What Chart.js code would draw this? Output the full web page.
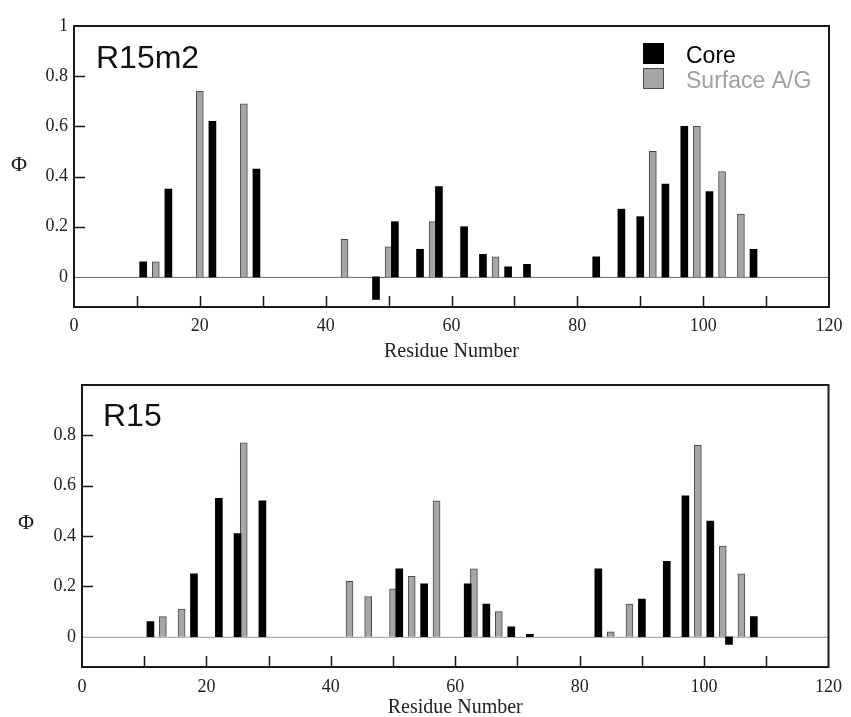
<!DOCTYPE html>
<html>
<head>
<meta charset="utf-8">
<script src="https://cdn.jsdelivr.net/npm/chart.js@4.4.0/dist/chart.umd.min.js"></script>
<style>
    html, body { margin:0; padding:0; background:#fff; }
    #wrap { position:relative; width:851px; height:717px; }
    #wrap canvas { position:absolute; left:0; }
</style>
</head>
<body>
<div id="wrap">
    <canvas id="chart-r15m2" width="851" height="360" style="top:0"></canvas>
    <canvas id="chart-r15" width="851" height="357" style="top:360px"></canvas>
</div>
<script>
// Phi values per residue
const r15m2CoreRes = [11, 15, 22, 29, 48, 51, 55, 58, 62, 65, 69, 72, 83, 87, 90, 94, 97, 101, 108];
const r15m2CorePhi = [0.06, 0.35, 0.62, 0.43, -0.09, 0.22, 0.11, 0.36, 0.20, 0.09, 0.04, 0.05, 0.08, 0.27, 0.24, 0.37, 0.60, 0.34, 0.11];
const r15m2SurfRes = [13, 20, 27, 43, 50, 57, 67, 92, 99, 103, 106];
const r15m2SurfPhi = [0.06, 0.74, 0.69, 0.15, 0.12, 0.22, 0.08, 0.50, 0.60, 0.42, 0.25];

const r15CoreRes = [11, 18, 22, 25, 29, 51, 55, 62, 65, 69, 72, 83, 90, 94, 97, 101, 104, 108];
const r15CorePhi = [0.06, 0.25, 0.55, 0.41, 0.54, 0.27, 0.21, 0.21, 0.13, 0.04, 0.01, 0.27, 0.15, 0.30, 0.56, 0.46, -0.03, 0.08];
const r15SurfRes = [13, 16, 26, 43, 46, 50, 53, 57, 63, 67, 85, 88, 99, 103, 106];
const r15SurfPhi = [0.08, 0.11, 0.77, 0.22, 0.16, 0.19, 0.24, 0.54, 0.27, 0.10, 0.02, 0.13, 0.76, 0.36, 0.25];

const seriesNames = ['Core', 'Surface A/G'];
const xTicks = [0, 10, 20, 30, 40, 50, 60, 70, 80, 90, 100, 110, 120];
const xLabelled = [0, 20, 40, 60, 80, 100, 120];
const yTicksTop = [0, 0.2, 0.4, 0.6, 0.8, 1];
const yTicksBottom = [0, 0.2, 0.4, 0.6, 0.8];

const colors = { core:'#000000', surf:'#a6a6a6', surfEdge:'#4a4a4a', surfText:'#a0a0a0', frame:'#1a1a1a', text:'#222222' };
const serif = '"Liberation Serif", "DejaVu Serif", serif';
const sans = '"Liberation Sans", Arial, sans-serif';

function pts(xs, ys){ return xs.map((x, i) => ({ x, y: ys[i] })); }

// frame, inward ticks, zero line and the text annotations
const panelPlugin = {
    id: 'panel',
    beforeDatasetsDraw(chart, args, opts){
        const { ctx, chartArea: a, scales } = chart;
        const y0 = scales.y.getPixelForValue(0);
        ctx.save();
        ctx.strokeStyle = opts.zeroColor;
        ctx.lineWidth = 1;
        ctx.beginPath();
        ctx.moveTo(a.left, y0 + 0.5);
        ctx.lineTo(a.right, y0 + 0.5);
        ctx.stroke();
        ctx.restore();
    },
    afterDraw(chart, args, opts){
        const { ctx, chartArea: a, scales } = chart;
        ctx.save();
        ctx.strokeStyle = colors.frame;
        ctx.lineWidth = 2;
        ctx.strokeRect(a.left, a.top, a.right - a.left, a.bottom - a.top);

        ctx.lineWidth = 1.5;
        ctx.beginPath();
        xTicks.filter(v => v > 0 && v < 120).forEach(v => {
            const px = Math.round(scales.x.getPixelForValue(v)) + 0.5;
            ctx.moveTo(px, a.bottom);
            ctx.lineTo(px, a.bottom - 11);
        });
        opts.yTicks.filter(v => v > 0 && v < 1).forEach(v => {
            const py = Math.round(scales.y.getPixelForValue(v)) + 0.5;
            ctx.moveTo(a.left, py);
            ctx.lineTo(a.left + 11, py);
        });
        ctx.stroke();

        // panel name
        ctx.fillStyle = '#111';
        ctx.font = '32px ' + sans;
        ctx.textAlign = 'left';
        ctx.textBaseline = 'alphabetic';
        ctx.fillText(opts.name, opts.nameX, opts.nameY);

        // axis titles
        ctx.fillStyle = colors.text;
        ctx.font = '20px ' + serif;
        ctx.textAlign = 'center';
        ctx.textBaseline = 'middle';
        ctx.fillText('Residue Number', (a.left + a.right) / 2, opts.xTitleY);
        ctx.font = '22px ' + serif;
        ctx.fillText('\u03A6', opts.phiX, opts.phiY);

        if (opts.legend) {
            const L = opts.legend;
            ctx.fillStyle = colors.core;
            ctx.fillRect(L.x, L.y, 21, 21);
            ctx.fillStyle = colors.surf;
            ctx.fillRect(L.x, L.y + 25, 21, 21);
            ctx.strokeStyle = colors.surfEdge;
            ctx.lineWidth = 1;
            ctx.strokeRect(L.x + 0.5, L.y + 25.5, 20, 20);
            ctx.font = '23px ' + sans;
            ctx.textAlign = 'left';
            ctx.textBaseline = 'alphabetic';
            ctx.fillStyle = '#000';
            ctx.fillText(seriesNames[0], L.x + 43, L.y + 20);
            ctx.fillStyle = colors.surfText;
            ctx.fillText(seriesNames[1], L.x + 43, L.y + 45);
        }
        ctx.restore();
    }
};

function makePanel(canvasId, core, surf, cfg){
    return new Chart(document.getElementById(canvasId), {
        type: 'bar',
        data: {
            datasets: [
                { label: seriesNames[0], data: core, backgroundColor: colors.core, borderWidth: 0 },
                { label: seriesNames[1], data: surf, backgroundColor: colors.surf, borderColor: colors.surfEdge, borderWidth: 1, borderSkipped: 'start' }
            ]
        },
        options: {
            responsive: false,
            animation: false,
            events: [],
            grouped: false,
            barThickness: 7,
            layout: { padding: cfg.padding },
            plugins: {
                legend: { display: false },
                tooltip: { enabled: false },
                panel: cfg.panel
            },
            scales: {
                x: {
                    type: 'linear',
                    min: 0, max: 120,
                    offset: false,
                    grid: { display: false, drawTicks: false },
                    border: { display: false },
                    afterBuildTicks: s => { s.ticks = xTicks.map(v => ({ value: v })); },
                    afterFit: s => { s.height = cfg.xHeight; },
                    ticks: {
                        autoSkip: false, maxRotation: 0, padding: cfg.xPad,
                        color: colors.text, font: { family: serif, size: 18 },
                        callback: v => xLabelled.includes(v) ? String(v) : ''
                    }
                },
                y: {
                    min: -0.12, max: 1,
                    grid: { display: false, drawTicks: false },
                    border: { display: false },
                    afterBuildTicks: s => { s.ticks = cfg.yTicks.map(v => ({ value: v })); },
                    afterFit: s => { s.width = cfg.yWidth; },
                    ticks: {
                        padding: 6,
                        color: colors.text, font: { family: serif, size: 18 },
                        callback: v => String(v)
                    }
                }
            }
        },
        plugins: [panelPlugin]
    });
}

makePanel('chart-r15m2', pts(r15m2CoreRes, r15m2CorePhi), pts(r15m2SurfRes, r15m2SurfPhi), {
    padding: { top: 26, right: 22, left: 0, bottom: 0 },
    xHeight: 53, yWidth: 74, yTicks: yTicksTop, xPad: 8,
    panel: {
        yTicks: yTicksTop, zeroColor: '#666',
        name: 'R15m2', nameX: 96, nameY: 68,
        xTitleY: 352, phiX: 19, phiY: 165,
        legend: { x: 643, y: 43 }
    }
});

makePanel('chart-r15', pts(r15CoreRes, r15CorePhi), pts(r15SurfRes, r15SurfPhi), {
    padding: { top: 25, right: 14, left: 0, bottom: 0 },
    xHeight: 50, yWidth: 82, yTicks: yTicksBottom, xPad: 9,
    panel: {
        yTicks: yTicksBottom, zeroColor: '#999',
        name: 'R15', nameX: 103, nameY: 66,
        xTitleY: 348, phiX: 26, phiY: 163,
        legend: null
    }
});
</script>
</body>
</html>
